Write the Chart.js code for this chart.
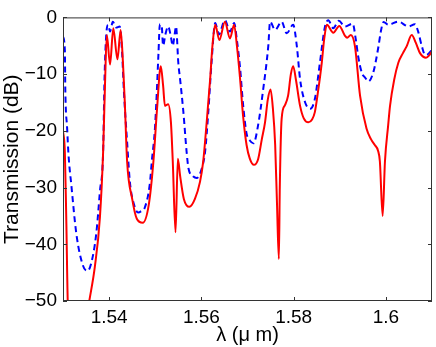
<!DOCTYPE html>
<html>
<head>
<meta charset="utf-8">
<script src="https://cdn.jsdelivr.net/npm/chart.js@4"></script>
<style>
  html, body { margin: 0; padding: 0; background: #fff; }
  #wrap { width: 436px; height: 347px; }
</style>
</head>
<body>
<div id="wrap"><canvas id="chart" width="436" height="347"></canvas></div>
<script>
// 波長 (μm) と透過率 (dB) — 図から読み取った値
const redLambda = [1.5300, 1.5304, 1.5307, 1.5311, 1.5333, 1.5357, 1.5369, 1.5380, 1.5387, 1.5391,
  1.5395, 1.5402, 1.5409, 1.5418, 1.5425, 1.5430, 1.5434, 1.5439, 1.5450, 1.5460,
  1.5473, 1.5486, 1.5496, 1.5504, 1.5512, 1.5517, 1.5521, 1.5528, 1.5534, 1.5538,
  1.5544, 1.5549, 1.5554, 1.5562, 1.5574, 1.5586, 1.5597, 1.5604, 1.5612, 1.5619,
  1.5624, 1.5630, 1.5639, 1.5651, 1.5662, 1.5671, 1.5677, 1.5684, 1.5690, 1.5698,
  1.5705, 1.5714, 1.5723, 1.5731, 1.5738, 1.5744, 1.5750, 1.5755, 1.5760, 1.5764,
  1.5768, 1.5770, 1.5774, 1.5781, 1.5788, 1.5794, 1.5799, 1.5805, 1.5814, 1.5822,
  1.5832, 1.5840, 1.5846, 1.5853, 1.5861, 1.5866, 1.5872, 1.5886, 1.5899, 1.5911,
  1.5916, 1.5924, 1.5933, 1.5944, 1.5958, 1.5968, 1.5976, 1.5983, 1.5987, 1.5993,
  1.5998, 1.6005, 1.6009, 1.6018, 1.6027, 1.6037, 1.6045, 1.6056, 1.6065, 1.6074,
  1.6087, 1.6094, 1.6100];
const redDb = [-20, -23.7, -35, -52, -62, -50, -44, -35.3, -23.7, -12,
  -3.1, -8.3, -1.9, -7.4, -2.2, -8, -15, -25.4, -32, -35.5,
  -36.2, -33, -25.4, -16, -8.6, -12, -15.6, -15.3, -18.5, -25.4,
  -37.9, -24.9, -28, -32, -33.4, -32, -29, -25.4, -18, -10.9,
  -5, -1.3, -4, -0.75, -3.7, -1.3, -5, -10.9, -17, -22.5,
  -24.9, -26, -25, -21.5, -18.5, -14.5, -12.7, -16, -22.5, -33,
  -42.6, -30, -17.9, -15.5, -13.8, -10, -8.6, -11, -15.6, -17.8,
  -18.5, -18, -16.7, -13, -8, -4, -1.3, -2.7, -1.5, -3.2,
  -3.6, -3.1, -5.1, -13.8, -19.6, -21.5, -22.5, -23.5, -25.4, -35,
  -25.4, -19, -15.6, -11, -8, -6.3, -5.1, -3.1, -4.5, -6.3,
  -7.1, -6.7, -6];

const blueLambda = [1.5300, 1.5304, 1.5305, 1.5309, 1.5312, 1.5318, 1.5329, 1.5343, 1.5353, 1.5361,
  1.5372, 1.5380, 1.5387, 1.5390, 1.5394, 1.5398, 1.5402, 1.5408, 1.5415, 1.5423,
  1.5428, 1.5432, 1.5439, 1.5445, 1.5454, 1.5463, 1.5469, 1.5477, 1.5488, 1.5493,
  1.5499, 1.5503, 1.5507, 1.5510, 1.5514, 1.5517, 1.5522, 1.5528, 1.5533, 1.5538,
  1.5542, 1.5545, 1.5550, 1.5554, 1.5561, 1.5568, 1.5572, 1.5582, 1.5590, 1.5601,
  1.5608, 1.5615, 1.5622, 1.5630, 1.5638, 1.5651, 1.5662, 1.5671, 1.5677, 1.5684,
  1.5690, 1.5698, 1.5705, 1.5713, 1.5723, 1.5734, 1.5745, 1.5749, 1.5760, 1.5774,
  1.5785, 1.5799, 1.5807, 1.5814, 1.5825, 1.5836, 1.5846, 1.5857, 1.5868, 1.5875,
  1.5886, 1.5898, 1.5911, 1.5928, 1.5935, 1.5940, 1.5948, 1.5955, 1.5962, 1.5973,
  1.5984, 1.5989, 1.5995, 1.6005, 1.6027, 1.6049, 1.6063, 1.6070, 1.6078, 1.6085,
  1.6091, 1.6100];
const blueDb = [-3.4, -5.7, -12.7, -19.6, -24.3, -29.5, -38.2, -43.7, -44.7, -43.4,
  -38.2, -30.7, -23.7, -10.9, -2.8, -1.3, -2.5, -0.75, -1.8, -1.6,
  -6, -13, -22, -29, -33, -34.4, -34.2, -33.6, -29.5, -25,
  -20, -13.8, -6.3, -1.2, -1.5, -5, -3, -1.6, -3, -5,
  -3, -1.6, -8, -11, -16.7, -23.7, -26.6, -28, -28.3, -26.6,
  -23.7, -16.7, -8, -1, -3, -0.5, -2.5, -1, -4, -9,
  -15, -20.5, -21.7, -22.2, -19, -12.7, -5.1, -0.75, -2.2, -0.75,
  -2.8, -1.3, -5.1, -10.9, -15, -16.1, -14.4, -8, -1.6, -0.5,
  -1.9, -0.6, -1.6, -1.1, -4, -6.9, -9.8, -10.6, -11.3, -9.6,
  -5.1, -2.5, -0.8, -1.3, -0.75, -1.6, -1.2, -2.5, -5.1, -6.6,
  -6.5, -5.7];

const xTicks = [1.54, 1.56, 1.58, 1.6];
const yTicks = [-50, -40, -30, -20, -10, 0];

const toPoints = (xs, ys) => xs.map((x, i) => ({ x: x, y: ys[i] }));

// 内向きの目盛りと枠線 (MATLAB 風)
const innerTicks = {
    id: 'innerTicks',
    afterDatasetsDraw(chart) {
        const { ctx, chartArea: a, scales: { x, y } } = chart;
        ctx.save();
        ctx.strokeStyle = '#333';
        ctx.lineWidth = 1;
        ctx.beginPath();
        x.ticks.forEach(t => {
            const px = Math.round(x.getPixelForValue(t.value)) + 0.5;
            ctx.moveTo(px, a.bottom); ctx.lineTo(px, a.bottom - 4);
            ctx.moveTo(px, a.top); ctx.lineTo(px, a.top + 4);
        });
        y.ticks.forEach(t => {
            const py = Math.round(y.getPixelForValue(t.value)) + 0.5;
            ctx.moveTo(a.left, py); ctx.lineTo(a.left + 4, py);
            ctx.moveTo(a.right, py); ctx.lineTo(a.right - 4, py);
        });
        ctx.stroke();
        ctx.strokeRect(a.left + 0.5, a.top + 0.5, a.right - a.left - 1, a.bottom - a.top - 1);
        ctx.restore();
    }
};

const font = "'Liberation Sans', Arial, Helvetica, sans-serif";

new Chart(document.getElementById('chart'), {
    type: 'line',
    data: {
        datasets: [
            {
                data: toPoints(redLambda, redDb),
                borderColor: '#ff0000',
                borderWidth: 2,
                pointRadius: 0,
                cubicInterpolationMode: 'monotone',
                order: 0,
                clip: 0
            },
            {
                data: toPoints(blueLambda, blueDb),
                borderColor: '#0000ff',
                borderWidth: 2,
                borderDash: [6, 4],
                pointRadius: 0,
                cubicInterpolationMode: 'monotone',
                order: 1,
                clip: 0
            }
        ]
    },
    options: {
        responsive: false,
        animation: false,
        events: [],
        layout: { padding: { top: 14, right: 4, left: 0, bottom: 0 } },
        plugins: { legend: { display: false }, tooltip: { enabled: false } },
        scales: {
            x: {
                type: 'linear',
                min: 1.53,
                max: 1.61,
                afterBuildTicks: s => { s.ticks = xTicks.map(v => ({ value: v })); },
                afterFit: s => { s.height = 46; },
                grid: { display: false, drawTicks: false },
                border: { display: false },
                ticks: {
                    padding: 5,
                    color: '#000',
                    font: { family: font, size: 19 },
                    maxRotation: 0,
                    callback: v => String(v)
                },
                title: {
                    display: true,
                    text: 'λ (μ m)',
                    color: '#000',
                    font: { family: font, size: 20 },
                    padding: 0
                }
            },
            y: {
                min: -50,
                max: 0,
                afterBuildTicks: s => { s.ticks = yTicks.map(v => ({ value: v })); },
                afterFit: s => { s.width = 63; },
                grid: { display: false, drawTicks: false },
                border: { display: false },
                ticks: {
                    padding: 6,
                    color: '#000',
                    font: { family: font, size: 19 },
                    callback: v => v < 0 ? '\u2212' + Math.abs(v) : String(v)
                },
                title: {
                    display: true,
                    text: 'Transmission (dB)',
                    color: '#000',
                    font: { family: font, size: 21 },
                    padding: 0
                }
            }
        }
    },
    plugins: [innerTicks]
});
</script>
</body>
</html>
